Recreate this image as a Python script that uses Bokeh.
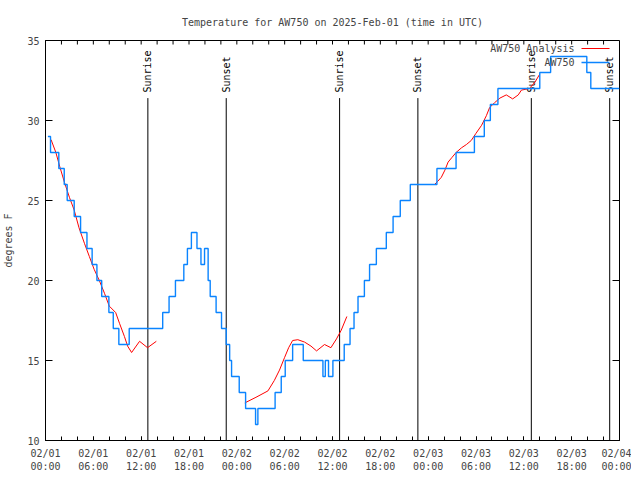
import math
from bokeh.plotting import figure
from bokeh.models import FixedTicker, Label, PolyAnnotation
from bokeh.core.properties import value
from bokeh.embed import file_html
from bokeh.resources import INLINE

NAN = float("nan")

# Observed AW750 temperature (deg F), value holds from each hour until the next
obs_hours = [0.3, 0.63, 1.67, 2.35, 2.72, 3.6, 4.4, 5.2, 5.85, 6.45, 7.05, 7.95, 8.5,
             9.2, 10.5, 14.7, 15.5, 16.3, 17.35, 17.8, 18.3, 19.0, 19.5, 19.95, 20.4,
             20.66, 21.4, 22.08, 22.67, 23.1, 23.34, 24.3, 25.1, 26.35, 26.64, 28.8,
             29.57, 30.07, 31.0, 32.33, 34.8, 35.1, 35.5, 36.05, 37.47, 38.2, 38.7,
             39.2, 40.0, 40.65, 41.5, 42.75, 43.6, 44.5, 45.76, 49.1, 51.5, 53.8,
             55.04, 55.8, 56.75, 62.0, 63.36, 67.9, 68.4, 72.0]
obs_temps = [29, 28, 27, 26, 25, 24, 23, 22, 21, 20, 19, 18, 17,
             16, 17, 18, 19, 20, 21, 22, 23, 22, 21, 22, 20,
             19, 18, 17, 16, 15, 14, 13, 12, 11, 12, 13,
             14, 15, 16, 15, 14, 15, 14, 15, 16, 17, 18,
             19, 20, 21, 22, 23, 24, 25, 26, 27, 28, 29,
             30, 31, 32, 33, 34, 33, 32, 32]

# Analysis temperature (deg F); NaN separates the three runs
ana_hours = [0.7, 1.3, 1.8, 2.4, 3.0, 3.6, 4.2, 4.9, 5.5, 6.1, 6.75, 7.4, 8.0, 8.8,
             9.3, 9.9, 10.3, 10.8, 11.8, 12.8, 13.9, NAN,
             25.0, 26.4, 27.9, 28.7, 29.35, 30.0, 30.5, 31.0, 31.65, 32.5, 33.3,
             34.0, 35.0, 35.8, 36.5, 37.1, 37.8, NAN,
             48.8, 49.2, 49.65, 50.1, 50.5, 51.0, 51.5, 52.2, 52.8, 53.4, 54.0,
             54.7, 55.3, 55.7, 56.3, 57.0, 57.8, 58.6, 59.3, 59.7, 60.7, 61.4, 62.0]
ana_temps = [28.8, 28.0, 27.1, 26.1, 25.2, 24.4, 23.3, 22.3, 21.5, 20.7, 20.0, 19.2,
             18.4, 18.0, 17.3, 16.5, 15.9, 15.5, 16.2, 15.8, 16.2, NAN,
             12.35, 12.7, 13.1, 13.75, 14.4, 15.2, 15.8, 16.25, 16.3, 16.15, 15.9,
             15.6, 16.0, 15.8, 16.35, 16.9, 17.75, NAN,
             26.0, 26.2, 26.45, 26.9, 27.4, 27.7, 28.0, 28.3, 28.5, 28.75, 29.2,
             29.7, 30.3, 30.8, 31.1, 31.4, 31.6, 31.35, 31.6, 31.9, 32.0, 32.4, 32.9]

# Sunrise / sunset events (hours since 02/01 00:00 UTC)
event_hours = [12.84, 22.67, 36.89, 46.71, 60.94, 70.77]
event_names = ["Sunrise", "Sunset", "Sunrise", "Sunset", "Sunrise", "Sunset"]

x_tick_hours = [0, 6, 12, 18, 24, 30, 36, 42, 48, 54, 60, 66, 72]
x_tick_labels = ["02/01\n00:00", "02/01\n06:00", "02/01\n12:00", "02/01\n18:00",
                 "02/02\n00:00", "02/02\n06:00", "02/02\n12:00", "02/02\n18:00",
                 "02/03\n00:00", "02/03\n06:00", "02/03\n12:00", "02/03\n18:00",
                 "02/04\n00:00"]
x_minor_hours = list(range(0, 73, 2))
y_ticks = [10, 15, 20, 25, 30, 35]

FONT = "DejaVu Sans Mono"
FS = "10px"
X0, X1, Y0, Y1 = 0, 72, 10, 35
FW, FH = 574, 400

p = figure(frame_width=FW, frame_height=FH, x_range=(X0, X1), y_range=(Y0, Y1),
           output_backend="svg", toolbar_location=None,
           min_border_left=38, min_border_right=12, min_border_top=40,
           min_border_bottom=32)
p.background_fill_color = "white"
p.border_fill_color = "white"
p.outline_line_color = "black"
p.outline_line_width = 1
p.xgrid.visible = False
p.ygrid.visible = False

p.title.text = "Temperature for AW750 on 2025-Feb-01 (time in UTC)"
p.title.text_font = FONT
p.title.text_font_size = FS
p.title.text_font_style = "normal"
p.title.align = "center"
p.title.standoff = 25

# bottom axis
xa = p.xaxis[0]
xa.ticker = FixedTicker(ticks=x_tick_hours, minor_ticks=x_minor_hours)
xa.major_label_overrides = {h: lab for h, lab in zip(x_tick_hours, x_tick_labels)}
xa.major_label_text_font = FONT
xa.major_label_text_font_size = FS
xa.major_label_standoff = 7
xa.major_tick_in = 4
xa.major_tick_out = 0
xa.minor_tick_in = 4
xa.minor_tick_out = 0
xa.axis_line_color = "black"

# left axis
ya = p.yaxis[0]
ya.ticker = FixedTicker(ticks=y_ticks, minor_ticks=[])
ya.major_label_text_font = FONT
ya.major_label_text_font_size = FS
ya.major_label_standoff = 6
ya.major_tick_in = 7
ya.major_tick_out = 0
ya.axis_label = "degrees F"
ya.axis_label_text_font = FONT
ya.axis_label_text_font_size = FS
ya.axis_label_text_font_style = "normal"
ya.axis_label_standoff = 10

# mirrored ticks on top and right (gnuplot style), lengths in px converted to data
top_len = 4 * (Y1 - Y0) / FH
right_len = 7 * (X1 - X0) / FW
p.segment(x0=x_minor_hours, y0=[Y1] * len(x_minor_hours), x1=x_minor_hours,
          y1=[Y1 - top_len] * len(x_minor_hours), line_color="black", line_width=1)
p.segment(x0=[X1] * len(y_ticks), y0=y_ticks, x1=[X1 - right_len] * len(y_ticks),
          y1=y_ticks, line_color="black", line_width=1)

# sunrise / sunset lines and labels
p.segment(x0=event_hours, y0=[Y0] * len(event_hours), x1=event_hours,
          y1=[31.4] * len(event_hours), line_color="black", line_width=1)
p.text(x=event_hours, y=[31.75] * len(event_hours), text=event_names,
       angle=math.pi / 2, text_align="left", text_baseline="middle",
       text_font=value(FONT), text_font_size=FS, text_color="black")

# data
p.line(ana_hours, ana_temps, line_color="#ff0000", line_width=1)
p.step(obs_hours, obs_temps, mode="after", line_color="#0a84ff", line_width=1.4)

# legend (gnuplot style: text right-aligned, sample on the right)
for i, (txt, col, lw) in enumerate([("AW750 Analysis", "#ff0000", 1),
                                   ("AW750", "#0a84ff", 1.4)]):
    ys = 392 - 14 * i
    p.add_layout(Label(x=529, y=ys, x_units="screen", y_units="screen", text=txt,
                       text_align="right", text_baseline="middle",
                       text_font=FONT, text_font_size=FS))
    p.add_layout(PolyAnnotation(xs=[536, 564], ys=[ys, ys], xs_units="screen",
                                ys_units="screen", line_color=col, line_width=lw,
                                line_alpha=1, fill_alpha=0))

open("out.html", "w").write(file_html(p, INLINE))
